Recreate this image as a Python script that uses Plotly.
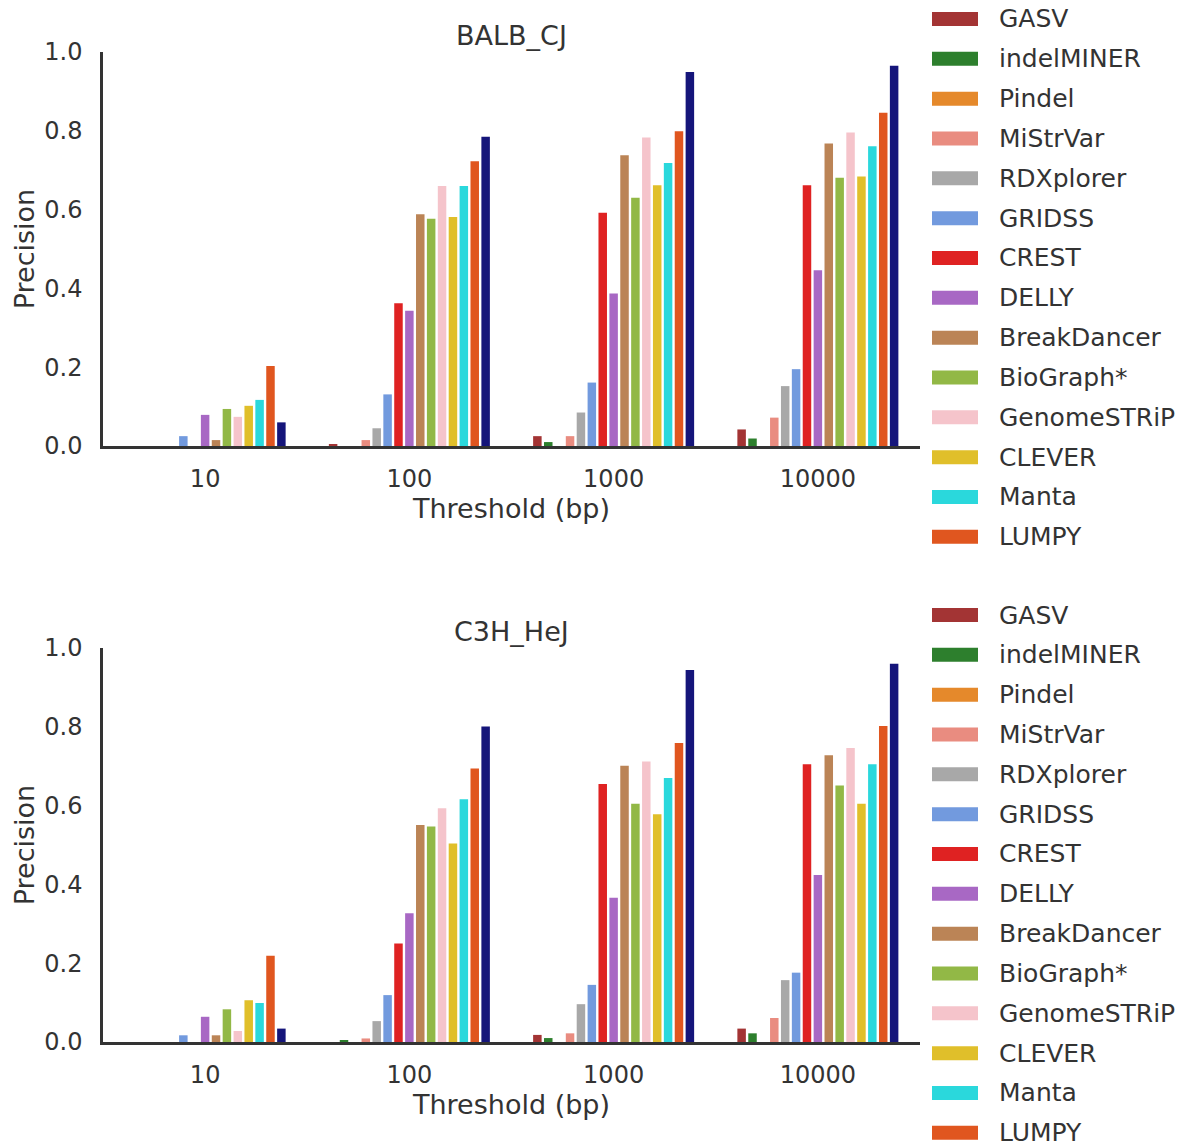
import plotly.graph_objects as go

# Deletion callers, in plotting order
tools = ["GASV", "indelMINER", "Pindel", "MiStrVar", "RDXplorer", "GRIDSS", "CREST",
         "DELLY", "BreakDancer", "BioGraph*", "GenomeSTRiP", "CLEVER", "Manta",
         "LUMPY", "PopDel"]
colors = ["#a33434", "#2d7f2d", "#e5892b", "#e98c80", "#a8a8a8", "#729ade", "#df2222",
          "#a868c4", "#bb8456", "#92b846", "#f5c4cb", "#e0bf2a", "#2ad8dc",
          "#e0561f", "#15157a"]
# the last caller has no legend entry
legend_count = 14

thresholds = ["10", "100", "1000", "10000"]

# Precision per threshold (one value per tool, same order as `tools`)
balb_10 = [0, 0, 0, 0, 0, 0.025, 0, 0.079, 0.015, 0.094, 0.074, 0.102, 0.117, 0.203, 0.060]
balb_100 = [0.004, 0, 0, 0.015, 0.045, 0.131, 0.362, 0.343, 0.588, 0.577, 0.660, 0.581, 0.660, 0.723, 0.785]
balb_1000 = [0.025, 0.010, 0, 0.025, 0.085, 0.161, 0.592, 0.387, 0.738, 0.630, 0.783, 0.662, 0.718, 0.799, 0.949]
balb_10000 = [0.042, 0.019, 0, 0.072, 0.152, 0.195, 0.662, 0.446, 0.768, 0.681, 0.796, 0.684, 0.761, 0.846, 0.965]

c3h_10 = [0, 0, 0, 0, 0, 0.017, 0, 0.064, 0.017, 0.083, 0.028, 0.106, 0.099, 0.219, 0.034]
c3h_100 = [0, 0.003, 0, 0.009, 0.053, 0.119, 0.250, 0.327, 0.551, 0.547, 0.593, 0.504, 0.616, 0.694, 0.801]
c3h_1000 = [0.018, 0.010, 0, 0.022, 0.096, 0.145, 0.655, 0.366, 0.701, 0.605, 0.712, 0.578, 0.670, 0.759, 0.944]
c3h_10000 = [0.034, 0.022, 0, 0.061, 0.157, 0.176, 0.705, 0.424, 0.728, 0.651, 0.746, 0.605, 0.705, 0.802, 0.960]

panels = [
    ("BALB_CJ", [balb_10, balb_100, balb_1000, balb_10000], "x", "y"),
    ("C3H_HeJ", [c3h_10, c3h_100, c3h_1000, c3h_10000], "x2", "y2"),
]

FONT = "DejaVu Sans"
TEXT = "#333333"
W, H = 1185, 1146
ML, MR, MT, MB = 103, 265, 52, 104
PW = W - ML - MR
PH = H - MT - MB


def px_to_paper_x(px):
    return (px - ML) / PW


def px_to_paper_y(py):
    return (H - MB - py) / PH


fig = go.Figure()
for title, cols, xa, ya in panels:
    for i, name in enumerate(tools):
        fig.add_trace(go.Bar(
            x=thresholds,
            y=[col[i] for col in cols],
            name=name,
            marker=dict(color=colors[i], line=dict(width=0)),
            xaxis=xa, yaxis=ya,
            showlegend=False,
        ))

axis_common = dict(
    showline=True, linecolor="#333333", linewidth=2.5, mirror=False,
    showgrid=False, zeroline=False, ticks="",
    tickfont=dict(family=FONT, size=24, color=TEXT),
)
title_font = dict(family=FONT, size=27, color=TEXT)

top_dom = [px_to_paper_y(446), 1.0]
bot_dom = [0.0, px_to_paper_y(648)]

fig.update_layout(
    width=W, height=H,
    margin=dict(l=ML, r=MR, t=MT, b=MB),
    plot_bgcolor="white", paper_bgcolor="white",
    barmode="group", bargap=0.2, bargroupgap=0.22,
    font=dict(family=FONT, size=24, color=TEXT),
    xaxis=dict(axis_common, domain=[0, 1], anchor="y", type="category",
               range=[-0.5, 3.5], ticklabelstandoff=9,
               title=dict(text="Threshold (bp)", standoff=4, font=title_font)),
    yaxis=dict(axis_common, domain=top_dom, anchor="x", range=[0, 1],
               tickvals=[0, 0.2, 0.4, 0.6, 0.8, 1.0], tickformat=".1f",
               ticklabelstandoff=13,
               title=dict(text="Precision", standoff=2, font=title_font)),
    xaxis2=dict(axis_common, domain=[0, 1], anchor="y2", type="category",
                range=[-0.5, 3.5], ticklabelstandoff=9,
                title=dict(text="Threshold (bp)", standoff=4, font=title_font)),
    yaxis2=dict(axis_common, domain=bot_dom, anchor="x2", range=[0, 1],
                tickvals=[0, 0.2, 0.4, 0.6, 0.8, 1.0], tickformat=".1f",
                ticklabelstandoff=13,
                title=dict(text="Precision", standoff=2, font=title_font)),
)

# Panel titles
for title, py in [("BALB_CJ", 35), ("C3H_HeJ", 631)]:
    fig.add_annotation(text=title, x=0.5, y=px_to_paper_y(py), xref="paper", yref="paper",
                       xanchor="center", yanchor="middle", showarrow=False,
                       font=title_font)

# Legends: wide colour swatches with labels to the right of each panel
shapes = []
for first_row in (19, 615):
    step = 39.83
    for i in range(legend_count):
        cy = first_row + i * step
        shapes.append(dict(type="rect", xref="paper", yref="paper",
                           x0=px_to_paper_x(932), x1=px_to_paper_x(978),
                           y0=px_to_paper_y(cy + 7), y1=px_to_paper_y(cy - 7),
                           fillcolor=colors[i], line=dict(width=0)))
        fig.add_annotation(text=tools[i], x=px_to_paper_x(997), y=px_to_paper_y(cy),
                           xref="paper", yref="paper", xanchor="left", yanchor="middle",
                           showarrow=False,
                           font=dict(family=FONT, size=25, color=TEXT))
fig.update_layout(shapes=shapes)

fig.write_html("out.html")
